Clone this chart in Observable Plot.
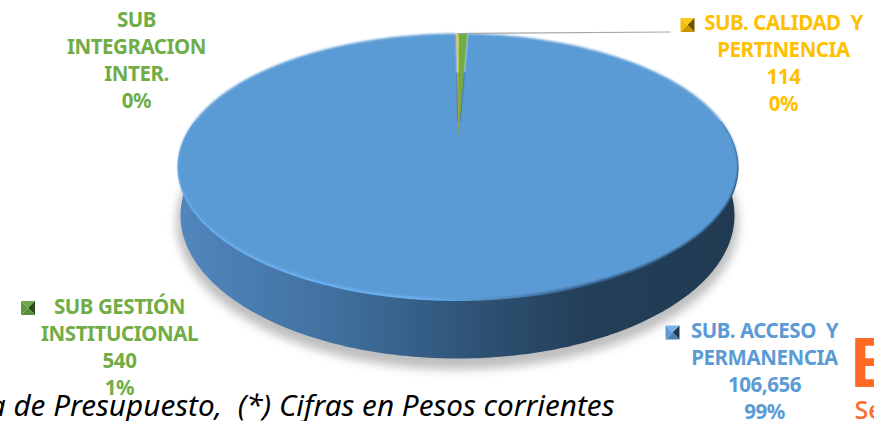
<!DOCTYPE html>
<html><head><meta charset="utf-8">
<style>html,body{margin:0;padding:0;background:#fff;overflow:hidden}svg text{white-space:pre}</style>
<script src="https://cdn.jsdelivr.net/npm/d3@7"></script>
<script src="https://cdn.jsdelivr.net/npm/@observablehq/plot@0.6"></script>
</head><body><div id="chart"></div>
<script>
// Data
const sliceNames = ["SUB. CALIDAD  Y\nPERTINENCIA", "SUB GESTIÓN\nINSTITUCIONAL", "SUB. ACCESO  Y\nPERMANENCIA"];
const sliceValues = [114, 540, 106656];
const sliceColors = ["#FFC000", "#70AD47", "#5B9BD5"];
const zeroLabel = "SUB\nINTEGRACION\nINTER.\n0%";
const footerText = "a de Presupuesto,  (*) Cifras en Pesos corrientes";

// Layout (chart space equals the 874x421 frame)
const W = 874, H = 421;
const FONT = "'Noto Sans', sans-serif";
const face = {cx: 457.5, cy: 165.5, rx: 280, ry: 132.5};
const apex = {x: 458, y: 137};
const startAngle = -0.3;
const total = d3.sum(sliceValues);
const pct = d3.format(".0%");
const num = d3.format(",");

const rim = (e, deg) => {
  const a = deg * Math.PI / 180;
  return {x: e.cx + e.rx * Math.sin(a), y: e.cy - e.ry * Math.cos(a)};
};
const arc = (e, a0, a1) => d3.range(a0, a1 + 1, 1).map(d => rim(e, d));

let acc = startAngle;
const slices = sliceValues.map((v, i) => {
  const a0 = acc, a1 = acc + v / total * 360;
  acc = a1;
  const n = Math.max(2, Math.ceil(a1 - a0));
  const pts = d3.range(n + 1).map(k => rim(face, a0 + (a1 - a0) * k / n));
  return {color: sliceColors[i], pts: [apex, ...pts, apex]};
});

const labelCenters = [[783, 61], [119, 345.5], [764, 369.5]];
const labels = sliceNames.map((name, i) => ({
  text: `${name}\n${num(sliceValues[i])}\n${pct(sliceValues[i] / total)}`,
  x: labelCenters[i][0], y: labelCenters[i][1], color: sliceColors[i]
}));
labels.push({text: zeroLabel, x: 136, y: 58.5, color: sliceColors[1]});

const keyShades = [
  {c: [687, 24.5], l: "#F5BC0A", t: "#FFC81E", r: "#6E5300", b: "#C99700"},
  {c: [27.5, 307.5], l: "#5E9A3B", t: "#6FA84A", r: "#2C4A1C", b: "#5C8F3A"},
  {c: [672, 332], l: "#5B9BD5", t: "#7DB1E0", r: "#1F3A57", b: "#4A80B2"}
];
const keyTriangles = keyShades.flatMap((k, i) => {
  const [x, y] = k.c, s = 7;
  const nw = {x: x - s, y: y - s}, ne = {x: x + s, y: y - s},
        se = {x: x + s, y: y + s}, sw = {x: x - s, y: y + s}, m = {x, y};
  return [[nw, ne, k.t], [ne, se, k.r], [se, sw, k.b], [sw, nw, k.l]].map(([p, q, fill], j) =>
    [p, q, m].map(d => ({...d, fill, z: `${i}-${j}`})));
}).flat();

const defs = () => {
  const d = d3.create("svg:defs");
  const grad = (id, stops) => {
    const g = d.append("linearGradient").attr("id", id).attr("gradientUnits", "userSpaceOnUse")
      .attr("x1", 178).attr("x2", 738).attr("y1", 0).attr("y2", 0);
    stops.forEach(([o, c]) => g.append("stop").attr("offset", o).attr("stop-color", c));
  };
  grad("side", [[0, "#5287BE"], [0.3, "#3E6E9C"], [0.5, "#30567A"], [0.72, "#233F59"], [1, "#203A51"]]);
  grad("rim", [[0, "#6CB2F2"], [0.42, "#6CB2F2"], [0.52, "#5A99D0"], [0.75, "#2F5478"], [1, "#223D55"]]);
  return d.node();
};

const base = {cx: 457, cy: 215, rx: 277, ry: 143};
const shadow = {cx: 457, cy: 222, rx: 281, ry: 147};
const rimFace = {cx: 457.5, cy: 167, rx: 280.5, ry: 133.5};

const plot = Plot.plot({
  width: W, height: H, margin: 0,
  x: {domain: [0, W], range: [0, W], axis: null},
  y: {domain: [0, H], range: [0, H], axis: null},
  color: {type: "identity"},
  marks: [
    defs,
    Plot.line(arc(shadow, 0, 360), {x: "x", y: "y", fill: "#000", fillOpacity: 0.25, stroke: "none", imageFilter: "blur(5px)"}),
    Plot.line(arc(base, 0, 360), {x: "x", y: "y", fill: "url(#side)", stroke: "none"}),
    Plot.line(arc(rimFace, 70, 290), {x: "x", y: "y", fill: "url(#rim)", stroke: "none", imageFilter: "blur(0.5px)"}),
    Plot.line(slices[2].pts, {x: "x", y: "y", fill: slices[2].color, stroke: "none", imageFilter: "blur(0.8px)"}),
    Plot.line(slices[1].pts, {x: "x", y: "y", fill: slices[1].color, stroke: "none"}),
    Plot.line(slices[0].pts, {x: "x", y: "y", fill: slices[0].color, stroke: "none"}),
    Plot.link([{x1: 457, y1: 33, x2: 670, y2: 31.5}], {x1: "x1", y1: "y1", x2: "x2", y2: "y2", stroke: "#A6A6A6", strokeWidth: 1.2}),
    Plot.line(keyTriangles, {x: "x", y: "y", z: "z", fill: "fill", stroke: "none"}),
    Plot.text(labels, {x: "x", y: "y", text: "text", fill: "color", fontFamily: FONT, fontWeight: 700, fontSize: 20.5, lineHeight: 1.317, textAnchor: "middle", lineAnchor: "middle", render: (i, s, v, d, c, next) => { const g = next(i, s, v, d, c); g.setAttribute("letter-spacing", "-0.45"); return g; }}),
    Plot.text([footerText], {x: () => 614, y: () => 405.5, text: d => d, textAnchor: "end", fontFamily: FONT, fontStyle: "italic", fontSize: 29.7, fill: "#000"}),
    Plot.text(["E"], {x: () => 850, y: () => 364, text: d => d, textAnchor: "start", fontFamily: "'Liberation Sans'", fontWeight: 700, fontSize: 70, fill: "#FF6B26"}),
    Plot.text(["Se"], {x: () => 854, y: () => 410, text: d => d, textAnchor: "start", fontFamily: FONT, fontWeight: 500, fontSize: 25, fill: "#FF6B26"})
  ]
});
document.getElementById("chart").append(plot);
</script></body></html>
